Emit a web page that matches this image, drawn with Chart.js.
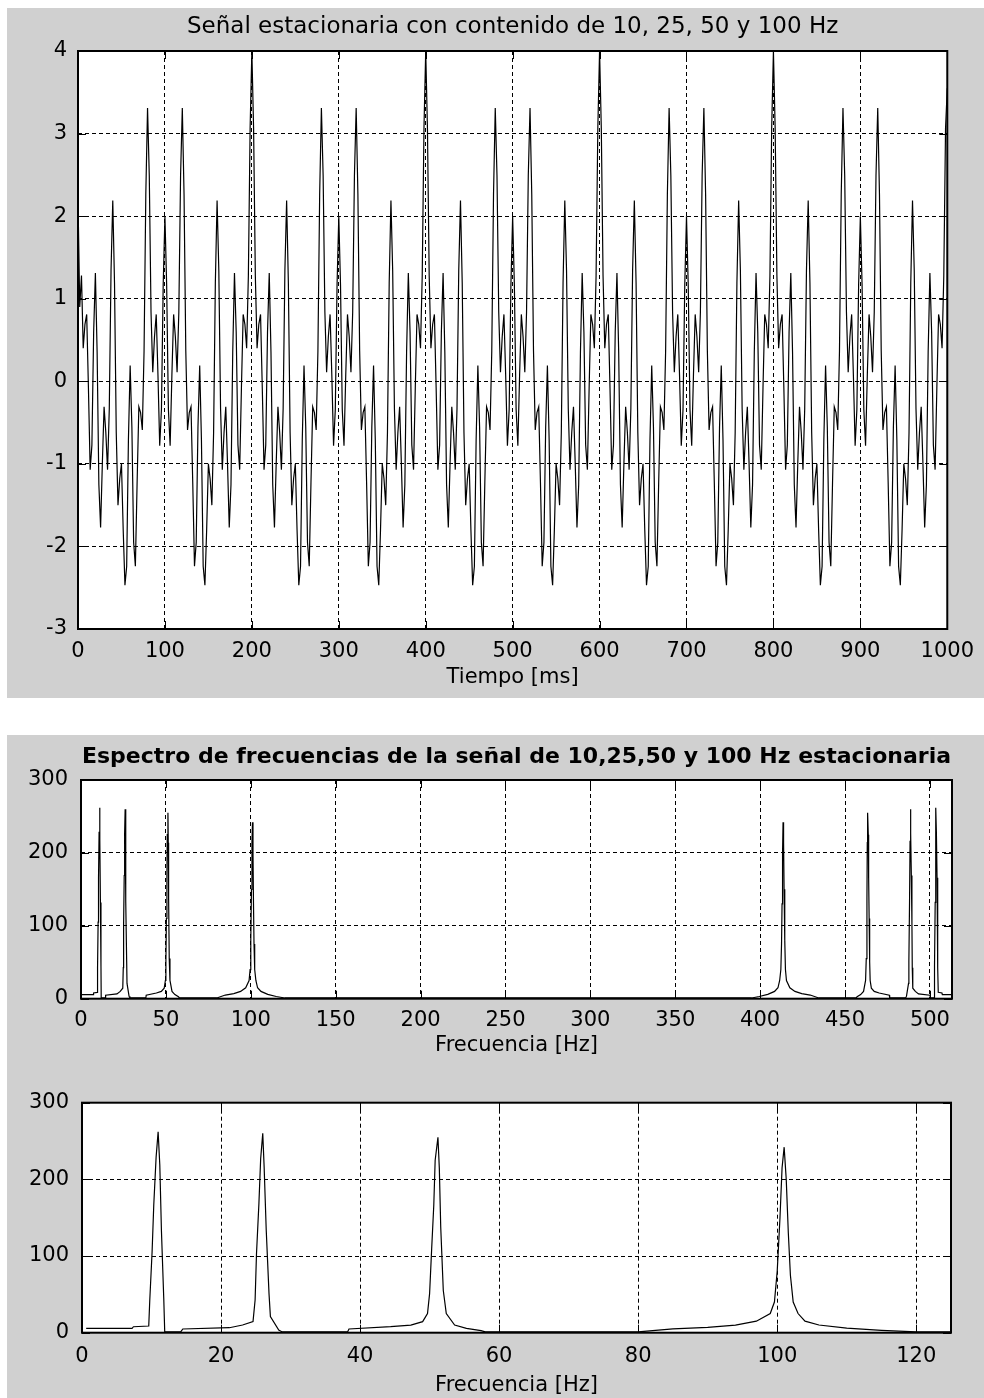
<!DOCTYPE html>
<html>
<head>
<meta charset="utf-8">
<script src="https://cdn.jsdelivr.net/npm/chart.js@4.4.1/dist/chart.umd.min.js"></script>
<style>
  html, body { margin: 0; padding: 0; background: #fff; }
  body { width: 984px; height: 1398px; position: relative; overflow: hidden; }
  .panel { position: absolute; background: #d0d0d0; }
  canvas { position: absolute; left: 0; }
</style>
</head>
<body>
<div class="panel" style="left:7px;top:8px;width:977px;height:690px"></div>
<div class="panel" style="left:7px;top:735px;width:977px;height:663px"></div>
<canvas id="senal" width="984" height="700" style="top:0"></canvas>
<canvas id="espectro" width="984" height="327" style="top:735px"></canvas>
<canvas id="detalle" width="984" height="336" style="top:1062px"></canvas>
<script>
// señal en el tiempo, una muestra cada 2 ms
const pasoMs = 2;
const senal = [
  2.20, 0.90, 1.28, 0.40, 0.69, 0.81, -0.08, -1.07, -0.77, 0.59, 1.31, 0.35, -1.25, -1.77, -1.00, -0.31, -0.62, -1.07, -0.33, 1.34, 2.19, 1.19, -0.62, -1.50, -1.18, -1.00, -1.80, -2.47, -2.24, -0.71, 0.19, -0.56, -1.95, -2.24, -1.23, -0.31, -0.38, -0.59, 0.37, 2.26, 3.31, 2.49, 0.84, 0.11, 0.54, 0.81, 0.07, -0.78, -0.34, 1.16, 2.00, 1.16, -0.34, -0.78, 0.07, 0.81, 0.54, 0.11, 0.84, 2.49, 3.31, 2.26, 0.37, -0.59, -0.38, -0.31, -1.23, -2.24, -1.95, -0.56, 0.19, -0.71, -2.24, -2.47, -1.80, -1.00, -1.18, -1.50, -0.62, 1.19, 2.19, 1.34, -0.33, -1.07, -0.62, -0.31, -1.00, -1.77, -1.25, 0.35, 1.31, 0.59, -0.77, -1.07, -0.08, 0.81, 0.69, 0.40, 1.28, 3.06,
  4.00, 3.06, 1.28, 0.40, 0.69, 0.81, -0.08, -1.07, -0.77, 0.59, 1.31, 0.35, -1.25, -1.77, -1.00, -0.31, -0.62, -1.07, -0.33, 1.34, 2.19, 1.19, -0.62, -1.50, -1.18, -1.00, -1.80, -2.47, -2.24, -0.71, 0.19, -0.56, -1.95, -2.24, -1.23, -0.31, -0.38, -0.59, 0.37, 2.26, 3.31, 2.49, 0.84, 0.11, 0.54, 0.81, 0.07, -0.78, -0.34, 1.16, 2.00, 1.16, -0.34, -0.78, 0.07, 0.81, 0.54, 0.11, 0.84, 2.49, 3.31, 2.26, 0.37, -0.59, -0.38, -0.31, -1.23, -2.24, -1.95, -0.56, 0.19, -0.71, -2.24, -2.47, -1.80, -1.00, -1.18, -1.50, -0.62, 1.19, 2.19, 1.34, -0.33, -1.07, -0.62, -0.31, -1.00, -1.77, -1.25, 0.35, 1.31, 0.59, -0.77, -1.07, -0.08, 0.81, 0.69, 0.40, 1.28, 3.06,
  4.00, 3.06, 1.28, 0.40, 0.69, 0.81, -0.08, -1.07, -0.77, 0.59, 1.31, 0.35, -1.25, -1.77, -1.00, -0.31, -0.62, -1.07, -0.33, 1.34, 2.19, 1.19, -0.62, -1.50, -1.18, -1.00, -1.80, -2.47, -2.24, -0.71, 0.19, -0.56, -1.95, -2.24, -1.23, -0.31, -0.38, -0.59, 0.37, 2.26, 3.31, 2.49, 0.84, 0.11, 0.54, 0.81, 0.07, -0.78, -0.34, 1.16, 2.00, 1.16, -0.34, -0.78, 0.07, 0.81, 0.54, 0.11, 0.84, 2.49, 3.31, 2.26, 0.37, -0.59, -0.38, -0.31, -1.23, -2.24, -1.95, -0.56, 0.19, -0.71, -2.24, -2.47, -1.80, -1.00, -1.18, -1.50, -0.62, 1.19, 2.19, 1.34, -0.33, -1.07, -0.62, -0.31, -1.00, -1.77, -1.25, 0.35, 1.31, 0.59, -0.77, -1.07, -0.08, 0.81, 0.69, 0.40, 1.28, 3.06,
  4.00, 3.06, 1.28, 0.40, 0.69, 0.81, -0.08, -1.07, -0.77, 0.59, 1.31, 0.35, -1.25, -1.77, -1.00, -0.31, -0.62, -1.07, -0.33, 1.34, 2.19, 1.19, -0.62, -1.50, -1.18, -1.00, -1.80, -2.47, -2.24, -0.71, 0.19, -0.56, -1.95, -2.24, -1.23, -0.31, -0.38, -0.59, 0.37, 2.26, 3.31, 2.49, 0.84, 0.11, 0.54, 0.81, 0.07, -0.78, -0.34, 1.16, 2.00, 1.16, -0.34, -0.78, 0.07, 0.81, 0.54, 0.11, 0.84, 2.49, 3.31, 2.26, 0.37, -0.59, -0.38, -0.31, -1.23, -2.24, -1.95, -0.56, 0.19, -0.71, -2.24, -2.47, -1.80, -1.00, -1.18, -1.50, -0.62, 1.19, 2.19, 1.34, -0.33, -1.07, -0.62, -0.31, -1.00, -1.77, -1.25, 0.35, 1.31, 0.59, -0.77, -1.07, -0.08, 0.81, 0.69, 0.40, 1.28, 3.06,
  4.00, 3.06, 1.28, 0.40, 0.69, 0.81, -0.08, -1.07, -0.77, 0.59, 1.31, 0.35, -1.25, -1.77, -1.00, -0.31, -0.62, -1.07, -0.33, 1.34, 2.19, 1.19, -0.62, -1.50, -1.18, -1.00, -1.80, -2.47, -2.24, -0.71, 0.19, -0.56, -1.95, -2.24, -1.23, -0.31, -0.38, -0.59, 0.37, 2.26, 3.31, 2.49, 0.84, 0.11, 0.54, 0.81, 0.07, -0.78, -0.34, 1.16, 2.00, 1.16, -0.34, -0.78, 0.07, 0.81, 0.54, 0.11, 0.84, 2.49, 3.31, 2.26, 0.37, -0.59, -0.38, -0.31, -1.23, -2.24, -1.95, -0.56, 0.19, -0.71, -2.24, -2.47, -1.80, -1.00, -1.18, -1.50, -0.62, 1.19, 2.19, 1.34, -0.33, -1.07, -0.62, -0.31, -1.00, -1.77, -1.25, 0.35, 1.31, 0.59, -0.77, -1.07, -0.08, 0.81, 0.69, 0.40, 1.28, 3.06,
  3.55
];
const ticksTiempo = [0, 100, 200, 300, 400, 500, 600, 700, 800, 900, 1000];
const ticksSenal = [-3, -2, -1, 0, 1, 2, 3, 4];

// espectro (modulo de la FFT)
const frecuencia = [
  0.6, 7.2, 7.4, 9.6, 9.75, 10.08, 10.32, 10.66, 10.95, 11.19, 11.43, 11.76, 11.9,
  14.2, 14.5, 21.2, 23.1, 24.6, 24.9, 25.1, 25.45, 25.7, 26.0, 26.2, 26.5, 26.9, 27.1, 28.3, 28.8,
  38.2, 38.4, 44.4, 47.3, 49.0, 49.7, 50.0, 50.3, 50.6, 50.8, 51.2, 51.4, 51.6, 51.97, 52.4, 53.6, 55.3, 57.4, 58.0,
  80, 85, 90, 94, 97, 99, 99.6, 100.0, 100.4, 100.7, 101.0, 101.3, 101.6, 101.9, 102.3, 103, 104, 106, 110, 115, 120,
  395, 399.5, 404.5, 408.5, 410.5, 411.5, 412.2, 412.6, 412.9, 413.2, 413.5, 413.8, 414.1, 414.5, 414.9, 415.5, 417.5, 420.5, 424.5, 429.5, 434.5,
  456.5, 457.1, 459.2, 460.9, 462.1, 462.5, 462.9, 463.1, 463.3, 463.7, 463.9, 464.2, 464.5, 464.8, 465.5, 467.2, 470.1, 476.1, 476.3,
  485.7, 486.2, 487.4, 487.6, 488.0, 488.3, 488.5, 488.8, 489.05, 489.4, 489.6, 489.9, 491.4, 493.3, 500.0, 500.3,
  502.6, 502.7, 503.1, 503.3, 503.55, 503.8, 504.2, 504.4, 504.75, 504.9, 507.1, 507.3, 513
];
const magnitud = [
  5.7, 5.7, 7.8, 8.7, 42.6, 105, 166, 229, 262, 219, 132, 45, 1,
  1, 4.8, 6.5, 10, 14.4, 42.6, 103, 169, 227, 260, 216, 134, 51, 21, 3.5, 1,
  1, 4.8, 7.8, 10, 14.4, 25, 51, 110, 166, 225, 255, 214, 138, 55, 25, 10, 5.7, 2.6, 1,
  1, 5, 7, 10, 15, 25, 40, 80, 150, 215, 242, 200, 130, 75, 40, 25, 15, 10, 6, 3, 1,
  1, 3, 6, 10, 15, 25, 40, 75, 130, 200, 242, 215, 150, 80, 40, 25, 15, 10, 7, 5, 1,
  1, 2.6, 5.7, 10, 25, 55, 138, 214, 255, 225, 166, 110, 51, 25, 14.4, 10, 7.8, 4.8, 1,
  1, 3.5, 21, 51, 134, 216, 260, 227, 169, 103, 42.6, 14.4, 10, 6.5, 4.8, 1,
  1, 45, 132, 219, 262, 229, 166, 105, 42.6, 8.7, 7.8, 5.7, 5.7
];
const ticksFrecuencia = [0, 50, 100, 150, 200, 250, 300, 350, 400, 450, 500];
const ticksDetalle = [0, 20, 40, 60, 80, 100, 120];
const ticksMagnitud = [0, 100, 200, 300];

const familia = "'DejaVu Sans', sans-serif";
const fuente = { family: familia, size: 21 };

// fondo blanco del area, caja negra y marcas hacia adentro (estilo MATLAB)
const marco = {
  id: "marco",
  beforeDraw(chart) {
    const { ctx, chartArea: a } = chart;
    ctx.save();
    ctx.fillStyle = "#fff";
    ctx.fillRect(a.left, a.top, a.width, a.height);
    ctx.restore();
  },
  afterDraw(chart) {
    const { ctx, chartArea: a, scales } = chart;
    const largo = 8;
    ctx.save();
    ctx.strokeStyle = "#000";
    ctx.lineWidth = 1;
    ctx.beginPath();
    scales.x.ticks.forEach((t) => {
      const px = Math.round(scales.x.getPixelForValue(t.value)) + 0.5;
      ctx.moveTo(px, a.bottom);
      ctx.lineTo(px, a.bottom - largo);
      ctx.moveTo(px, a.top);
      ctx.lineTo(px, a.top + largo);
    });
    scales.y.ticks.forEach((t) => {
      const py = Math.round(scales.y.getPixelForValue(t.value)) + 0.5;
      ctx.moveTo(a.left, py);
      ctx.lineTo(a.left + largo, py);
      ctx.moveTo(a.right, py);
      ctx.lineTo(a.right - largo, py);
    });
    ctx.stroke();
    ctx.lineWidth = 2;
    ctx.strokeRect(a.left, a.top, a.width, a.height);
    ctx.restore();
  },
};

function eje(min, max, marcas, separacion, extra) {
  return Object.assign(
    {
      type: "linear",
      min: min,
      max: max,
      afterBuildTicks: (s) => {
        s.ticks = marcas.map((v) => ({ value: v }));
      },
      grid: { color: "#000", lineWidth: 1, drawTicks: false },
      border: { display: false, dash: [4, 3] },
      ticks: {
        color: "#000",
        font: fuente,
        padding: separacion,
        autoSkip: false,
        maxRotation: 0,
        callback: (v) => String(v),
      },
    },
    extra
  );
}

function tituloEje(texto, abajo) {
  return { display: true, text: texto, color: "#000", font: fuente, padding: { top: 0, bottom: abajo } };
}

function graficar(id, puntos, opciones) {
  return new Chart(document.getElementById(id), {
    type: "line",
    data: {
      datasets: [
        {
          data: puntos,
          borderColor: "#000",
          borderWidth: 1.2,
          pointRadius: 0,
          fill: false,
          tension: 0,
          clip: 0,
        },
      ],
    },
    options: Object.assign(
      {
        responsive: false,
        animation: false,
        devicePixelRatio: 1,
        events: [],
      },
      opciones
    ),
    plugins: [marco],
  });
}

const puntosSenal = senal.map((v, i) => ({ x: i * pasoMs, y: v }));
const puntosEspectro = frecuencia.map((f, i) => ({ x: f, y: magnitud[i] }));

graficar("senal", puntosSenal, {
  layout: { padding: { left: 0, right: 36, top: 0, bottom: 0 } },
  plugins: {
    legend: { display: false },
    tooltip: { enabled: false },
    title: {
      display: true,
      fullSize: false,
      text: "Señal estacionaria con contenido de 10, 25, 50 y 100 Hz",
      color: "#000",
      font: { family: familia, size: 23, weight: "normal" },
      padding: { top: 13.2, bottom: 10.2 },
    },
  },
  scales: {
    x: eje(0, 1000, ticksTiempo, 10, {
      afterFit: (s) => { s.height = 71; },
      title: tituloEje("Tiempo [ms]", 10),
    }),
    y: eje(-3, 4, ticksSenal, 11, {
      afterFit: (s) => { s.width = 78; },
    }),
  },
});

graficar("espectro", puntosEspectro, {
  layout: { padding: { left: 0, right: 32, top: 0, bottom: 0 } },
  plugins: {
    legend: { display: false },
    tooltip: { enabled: false },
    title: {
      display: true,
      fullSize: false,
      text: "Espectro de frecuencias de la señal de 10,25,50 y 100 Hz estacionaria",
      color: "#000",
      font: { family: familia, size: 22, weight: "bold" },
      padding: { top: 8.8, bottom: 9.8 },
    },
  },
  scales: {
    x: eje(0, 513, ticksFrecuencia, 9, {
      afterFit: (s) => { s.height = 63.3; },
      title: tituloEje("Frecuencia [Hz]", 4),
    }),
    y: eje(0, 300, ticksMagnitud, 13, {
      afterFit: (s) => { s.width = 81; },
    }),
  },
});

graficar("detalle", puntosEspectro, {
  layout: { padding: { left: 0, right: 33, top: 40.7, bottom: 0 } },
  plugins: {
    legend: { display: false },
    tooltip: { enabled: false },
    title: { display: false },
  },
  scales: {
    x: eje(0, 125, ticksDetalle, 11, {
      afterFit: (s) => { s.height = 65.3; },
      title: tituloEje("Frecuencia [Hz]", 0),
    }),
    y: eje(0, 300, ticksMagnitud, 13, {
      afterFit: (s) => { s.width = 82; },
    }),
  },
});
</script>
</body>
</html>
